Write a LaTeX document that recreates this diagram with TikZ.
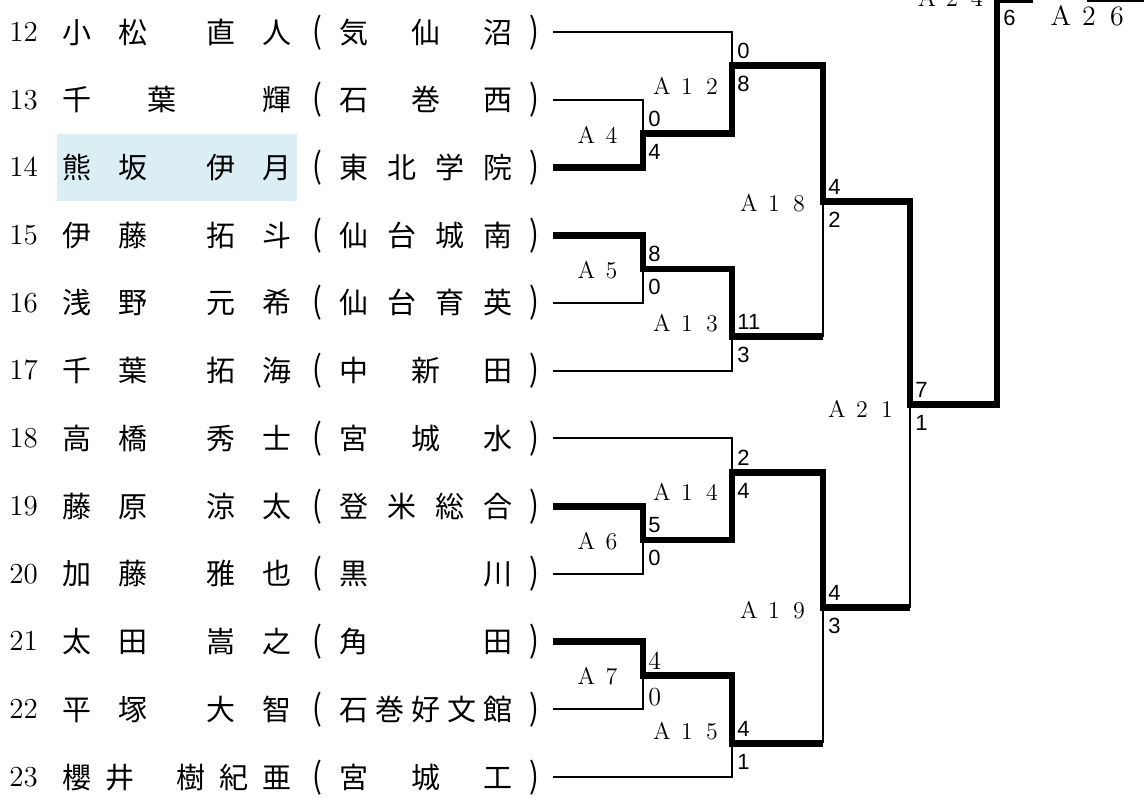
\documentclass[tikz,border=0pt]{standalone}
\usepackage{fontspec}
\newfontfamily\jp{Noto Sans CJK JP}
\newfontfamily\scorefont{Liberation Sans}
\definecolor{hilite}{HTML}{DAEEF3}
\newcommand\cb[1]{\makebox[12.5pt]{#1}}
\newcommand\prow[5]{%
  \node[num] (n#1) at (9,#2) {#3};
  \foreach \xx/\cc [count=\k] in {#4} {\node[jpc] (nm#1-\k) at (\xx,#2) {\cc};}
  \node[jpc] (lp#1) at (317,#2) {\scalebox{1}[1.2]{(}};
  \foreach \xx/\cc [count=\k] in {#5} {\node[jpc] (sc#1-\k) at (\xx,#2) {\cc};}
  \node[jpc] (rp#1) at (534,#2) {\scalebox{1}[1.2]{)}};
  \coordinate (p#1) at (553,#2);
}
\begin{document}
\begin{tikzpicture}[x=0.5pt,y=-0.5pt,
  thinl/.style={line width=1.1pt},
  thickl/.style={line width=3.4pt},
  jpc/.style={font=\jp\fontsize{14.5}{14.5}\selectfont, inner sep=0pt, text height=11.9pt, text depth=0.9pt, anchor=center},
  num/.style={font=\fontsize{14.5}{14.5}\selectfont, inner sep=0pt, text height=9.35pt, text depth=0pt, anchor=west},
  mlab/.style={font=\fontsize{12}{12}\selectfont, inner sep=0pt, text height=8.2pt, text depth=0pt},
  sc/.style={font=\scorefont\fontsize{11}{11}\selectfont, inner sep=0pt, text height=7.9pt, text depth=0pt, anchor=west},
  scs/.style={font=\fontsize{13}{13}\selectfont, inner sep=0pt, text height=8.4pt, text depth=0pt, anchor=west},
]
\useasboundingbox (0,0) rectangle (1144,798);
\fill[hilite] (57,133.59) rectangle (297,201.32);

\prow{12}{32}{12}{77/小,133/松,221/直,277/人}{354/気,426/仙,498/沼}
\prow{13}{99.73}{13}{77/千,162/葉,277/輝}{354/石,426/巻,498/西}
\prow{14}{167.45}{14}{77/熊,133/坂,221/伊,277/月}{354/東,402/北,450/学,498/院}
\prow{15}{235.18}{15}{77/伊,133/藤,221/拓,277/斗}{354/仙,402/台,450/城,498/南}
\prow{16}{302.91}{16}{77/浅,133/野,221/元,277/希}{354/仙,402/台,450/育,498/英}
\prow{17}{370.64}{17}{77/千,133/葉,221/拓,277/海}{354/中,426/新,498/田}
\prow{18}{438.36}{18}{77/高,133/橋,221/秀,277/士}{354/宮,426/城,498/水}
\prow{19}{506.09}{19}{77/藤,133/原,221/涼,277/太}{354/登,402/米,450/総,498/合}
\prow{20}{573.82}{20}{77/加,133/藤,221/雅,277/也}{354/黒,498/川}
\prow{21}{641.55}{21}{77/太,133/田,221/嵩,277/之}{354/角,498/田}
\prow{22}{709.27}{22}{77/平,133/塚,221/大,277/智}{354/石,390/巻,426/好,462/文,498/館}
\prow{23}{777}{23}{77/櫻,120/井,191/樹,234/紀,277/亜}{354/宮,426/城,498/工}

% junctions
\coordinate (m4) at (643,133.59);
\coordinate (m5) at (643,269.05);
\coordinate (m6) at (643,539.95);
\coordinate (m7) at (643,675.41);
\coordinate (m12) at (732,65.86);
\coordinate (m13) at (732,336.77);
\coordinate (m14) at (732,472.23);
\coordinate (m15) at (732,743.14);
\coordinate (m18) at (823,201.32);
\coordinate (m19) at (823,607.68);
\coordinate (m21) at (910,404.5);
\coordinate (m24) at (997,0);
\coordinate (e13) at (823,336.77);
\coordinate (e15) at (823,743.14);
\coordinate (e19) at (910,607.68);
\coordinate (t24) at (1033,0);
\coordinate (t26a) at (1087,0.5);
\coordinate (t26b) at (1144,0.5);

% thin connectors
\draw[thinl] (p12) -| (m12);
\draw[thinl] (p13) -| (m4);
\draw[thinl] (p16) -| (m5);
\draw[thinl] (p17) -| (m13);
\draw[thinl] (e13) -- (m18);
\draw[thinl] (p18) -| (m14);
\draw[thinl] (p20) -| (m6);
\draw[thinl] (p22) -| (m7);
\draw[thinl] (p23) -| (m15);
\draw[thinl] (e15) -- (m19);
\draw[thinl] (e19) -- (m21);
\draw[thinl] (t26a) -- (t26b);

% thick (winner) connectors
\draw[thickl] (p14) -| (m4) -| (m12) -| (m18) -| (m21) -| (m24) -- (t24);
\draw[thickl] (p15) -| (m5) -| (m13) -- (e13);
\draw[thickl] (p19) -| (m6) -| (m14) -| (m19) -- (e19);
\draw[thickl] (p21) -| (m7) -| (m15) -- (e15);

% match labels
\node[mlab] (A4) at (599,135) {\cb{A}\cb{4}};
\node[mlab] (A5) at (599,270) {\cb{A}\cb{5}};
\node[mlab] (A6) at (599,541) {\cb{A}\cb{6}};
\node[mlab] (A7) at (599,676.5) {\cb{A}\cb{7}};
\node[mlab] (A12) at (687,86) {\cb{A}\cb{1}\cb{2}};
\node[mlab] (A13) at (687,323.5) {\cb{A}\cb{1}\cb{3}};
\node[mlab] (A14) at (687,492) {\cb{A}\cb{1}\cb{4}};
\node[mlab] (A15) at (687,731) {\cb{A}\cb{1}\cb{5}};
\node[mlab] (A18) at (774,203.5) {\cb{A}\cb{1}\cb{8}};
\node[mlab] (A19) at (774,610) {\cb{A}\cb{1}\cb{9}};
\node[mlab] (A21) at (862,409) {\cb{A}\cb{2}\cb{1}};
\node[mlab, font=\fontsize{12.5}{12.5}\selectfont] (A24) at (952,-2) {\cb{A}\cb{2}\cb{4}};
\node[mlab, font=\fontsize{14}{14}\selectfont, text height=9.6pt] (A26) at (1089,16) {\makebox[14pt]{A}\makebox[14pt]{2}\makebox[14pt]{6}};

% scores
\node[sc] (s4a) at (648,118.6) {0};
\node[sc] (s4b) at (648,151.6) {4};
\node[sc] (s5a) at (648,254) {8};
\node[sc] (s5b) at (648,287) {0};
\node[sc] (s6a) at (648,525) {5};
\node[sc] (s6b) at (648,558) {0};
\node[scs] (s7a) at (648,661) {4};
\node[scs] (s7b) at (648,697) {0};
\node[sc] (s12a) at (737,50.9) {0};
\node[sc] (s12b) at (737,83.9) {8};
\node[sc] (s13a) at (737,321.8) {11};
\node[sc] (s13b) at (737,354.8) {3};
\node[sc] (s14a) at (737,457.2) {2};
\node[sc] (s14b) at (737,490.2) {4};
\node[sc] (s15a) at (737,728.1) {4};
\node[sc] (s15b) at (737,761.1) {1};
\node[sc] (s18a) at (828,186.3) {4};
\node[sc] (s18b) at (828,219.3) {2};
\node[sc] (s19a) at (828,592.7) {4};
\node[sc] (s19b) at (828,625.7) {3};
\node[sc] (s21a) at (915,389.5) {7};
\node[sc] (s21b) at (915,422.5) {1};
\node[sc] (s24b) at (1003,18) {6};
\end{tikzpicture}
\end{document}
